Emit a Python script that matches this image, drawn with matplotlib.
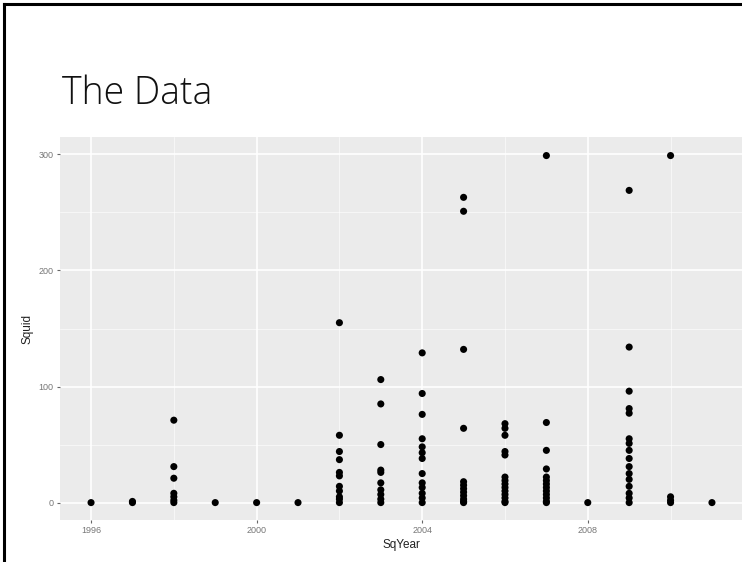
import numpy as np
import matplotlib.pyplot as plt
from matplotlib.lines import Line2D

# Squid counts by survey year, one list of values per year
years = [1996, 1997, 1998, 1999, 2000, 2001, 2002, 2003, 2004, 2005,
         2006, 2007, 2008, 2009, 2010, 2011]
squid = [
    [0],
    [0, 1],
    [0, 2, 5, 8, 21, 31, 71],
    [0],
    [0],
    [0],
    [0, 3, 5, 10, 14, 23, 26, 37, 44, 58, 155],
    [0, 3, 7, 11, 17, 26, 28, 50, 85, 106],
    [0, 4, 8, 13, 17, 25, 38, 43, 48, 55, 76, 94, 129],
    [0, 1, 3, 6, 9, 12, 15, 18, 64, 132, 251, 263],
    [0, 1, 4, 7, 10, 13, 16, 19, 22, 41, 44, 58, 64, 68],
    [0, 1, 4, 7, 10, 13, 16, 19, 22, 29, 45, 69, 299],
    [0],
    [0, 4, 8, 14, 20, 25, 31, 38, 45, 51, 55, 77, 81, 96, 134, 269],
    [0, 2, 5, 299],
    [0],
]

x_major = [1996, 2000, 2004, 2008]
x_minor = [1998, 2002, 2006, 2010]
y_major = [0, 100, 200, 300]
y_minor = [50, 150, 250]

sq_year = np.concatenate([[yr] * len(v) for yr, v in zip(years, squid)])
sq_val = np.concatenate(squid)

W, H = 742, 562
fig = plt.figure(figsize=(W / 100, H / 100), dpi=100)
fig.patch.set_facecolor('white')

# slide frame and heading
fig.add_artist(Line2D([4 / W, 4 / W], [0, 1 - 4 / H], color='black', lw=2.2))
fig.add_artist(Line2D([4 / W, 1], [1 - 4 / H, 1 - 4 / H], color='black', lw=2.2))
fig.text(62 / W, 1 - 104 / H, 'The Data', fontsize=27, family=['Open Sans', 'DejaVu Sans'],
         fontweight='light', color='#111111', va='baseline', ha='left')

# ggplot-like panel
ax = fig.add_axes([60 / W, 1 - 520 / H, 683 / W, 383 / H])
ax.set_facecolor('#EBEBEB')
for s in ax.spines.values():
    s.set_visible(False)

for v in y_minor:
    ax.axhline(v, color='white', lw=0.5, alpha=0.8, zorder=0)
for v in x_minor:
    ax.axvline(v, color='white', lw=0.5, alpha=0.8, zorder=0)
for v in y_major:
    ax.axhline(v, color='white', lw=1.2, zorder=0)
for v in x_major:
    ax.axvline(v, color='white', lw=1.2, zorder=0)

ax.scatter(sq_year, sq_val, s=26, color='black', edgecolors='none', zorder=3)

ax.set_xlim(1995.25, 2011.75)
ax.set_ylim(-15, 315)
ax.set_xticks(x_major)
ax.set_yticks(y_major)
ax.tick_params(axis='both', length=2.5, width=0.8, color='#666666',
               labelsize=6.5, labelcolor='#777777', pad=2)
for lab in ax.get_xticklabels() + ax.get_yticklabels():
    lab.set_family(['Liberation Sans', 'DejaVu Sans'])

ax.set_xlabel('SqYear', fontsize=8.5, color='#222222', family=['Liberation Sans', 'DejaVu Sans'], labelpad=3)
ax.set_ylabel('Squid', fontsize=8.5, color='#222222', family=['Liberation Sans', 'DejaVu Sans'], labelpad=4)

fig.savefig('out.png', dpi=100)
